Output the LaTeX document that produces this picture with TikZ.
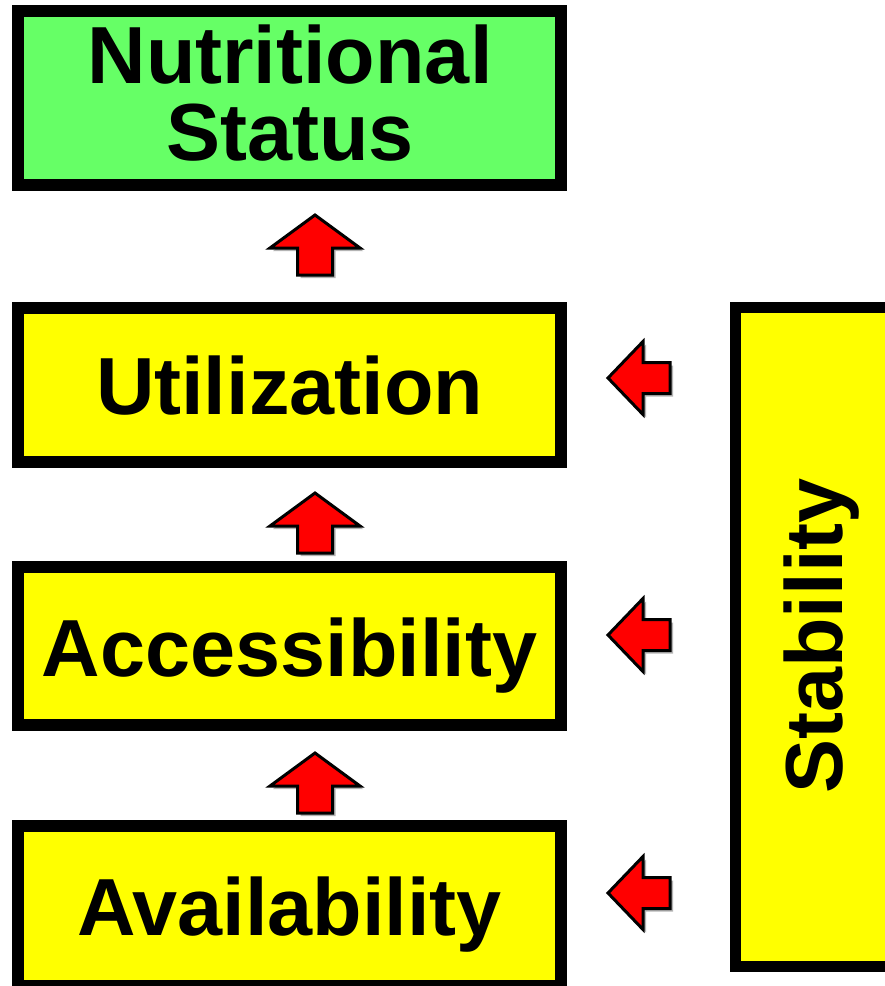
\documentclass[tikz,border=0pt]{standalone}
\usepackage{fontspec}
\setmainfont{Liberation Sans}
\definecolor{boxgreen}{HTML}{66FF66}
\definecolor{boxyellow}{HTML}{FFFF00}
\definecolor{arrred}{HTML}{FF0000}
\definecolor{shadowgray}{HTML}{B4B4B4}
\tikzset{
  box/.style={draw=black, line width=12pt, inner sep=0pt, rectangle},
  lbl/.style={inner sep=0pt, anchor=base, font=\fontsize{81}{77}\selectfont\bfseries},
  uparr/.pic={
    \fill[shadowgray, shift={(3,3)}] (0,0) -- (45,33) -- (17.5,33) -- (17.5,60) -- (-17.5,60) -- (-17.5,33) -- (-45,33) -- cycle;
    \draw[fill=arrred, line width=3pt, line join=miter] (0,0) -- (45,33) -- (17.5,33) -- (17.5,60) -- (-17.5,60) -- (-17.5,33) -- (-45,33) -- cycle;
  },
  leftarr/.pic={
    \fill[shadowgray, shift={(3,3)}] (0,0) -- (35,-36.5) -- (35,-15.5) -- (62,-15.5) -- (62,15.5) -- (35,15.5) -- (35,36.5) -- cycle;
    \draw[fill=arrred, line width=3pt, line join=miter] (0,0) -- (35,-36.5) -- (35,-15.5) -- (62,-15.5) -- (62,15.5) -- (35,15.5) -- (35,36.5) -- cycle;
  }
}
\begin{document}
\begin{tikzpicture}[x=1pt, y=-1pt]
  \useasboundingbox (0,0) rectangle (885,986);
  \clip (0,0) rectangle (885,986);
  \fill[white] (0,0) rectangle (885,986);

  % boxes
  \node[box, fill=boxgreen, minimum width=543pt, minimum height=174pt] (nut) at (289.5,98) {};
  \node[box, fill=boxyellow, minimum width=543pt, minimum height=154pt] (uti) at (289.5,385) {};
  \node[box, fill=boxyellow, minimum width=543pt, minimum height=158pt] (acc) at (289.5,646) {};
  \node[box, fill=boxyellow, minimum width=543pt, minimum height=160pt] (ava) at (289.5,906) {};
  \node[box, line width=11pt, fill=boxyellow, minimum width=170pt, minimum height=659pt] (sta) at (820.5,637) {};

  % labels
  \node[lbl] (nut1) at (290,83) {Nutritional};
  \node[lbl] (nut2) at (290,160) {Status};
  \node[lbl] (utit) at (289.5,414) {Utilization};
  \node[lbl] (acct) at (289.5,676) {Accessibility};
  \node[lbl] (avat) at (289.5,935) {Availability};
  \node[lbl, rotate=90] (stat) at (842,636) {Stability};

  % arrows
  \pic (ua1) at (315,215) {uparr};
  \pic (ua2) at (315,493) {uparr};
  \pic (ua3) at (315,753) {uparr};
  \pic (la1) at (608,378) {leftarr};
  \pic (la2) at (608,635) {leftarr};
  \pic (la3) at (608,893) {leftarr};
\end{tikzpicture}
\end{document}
